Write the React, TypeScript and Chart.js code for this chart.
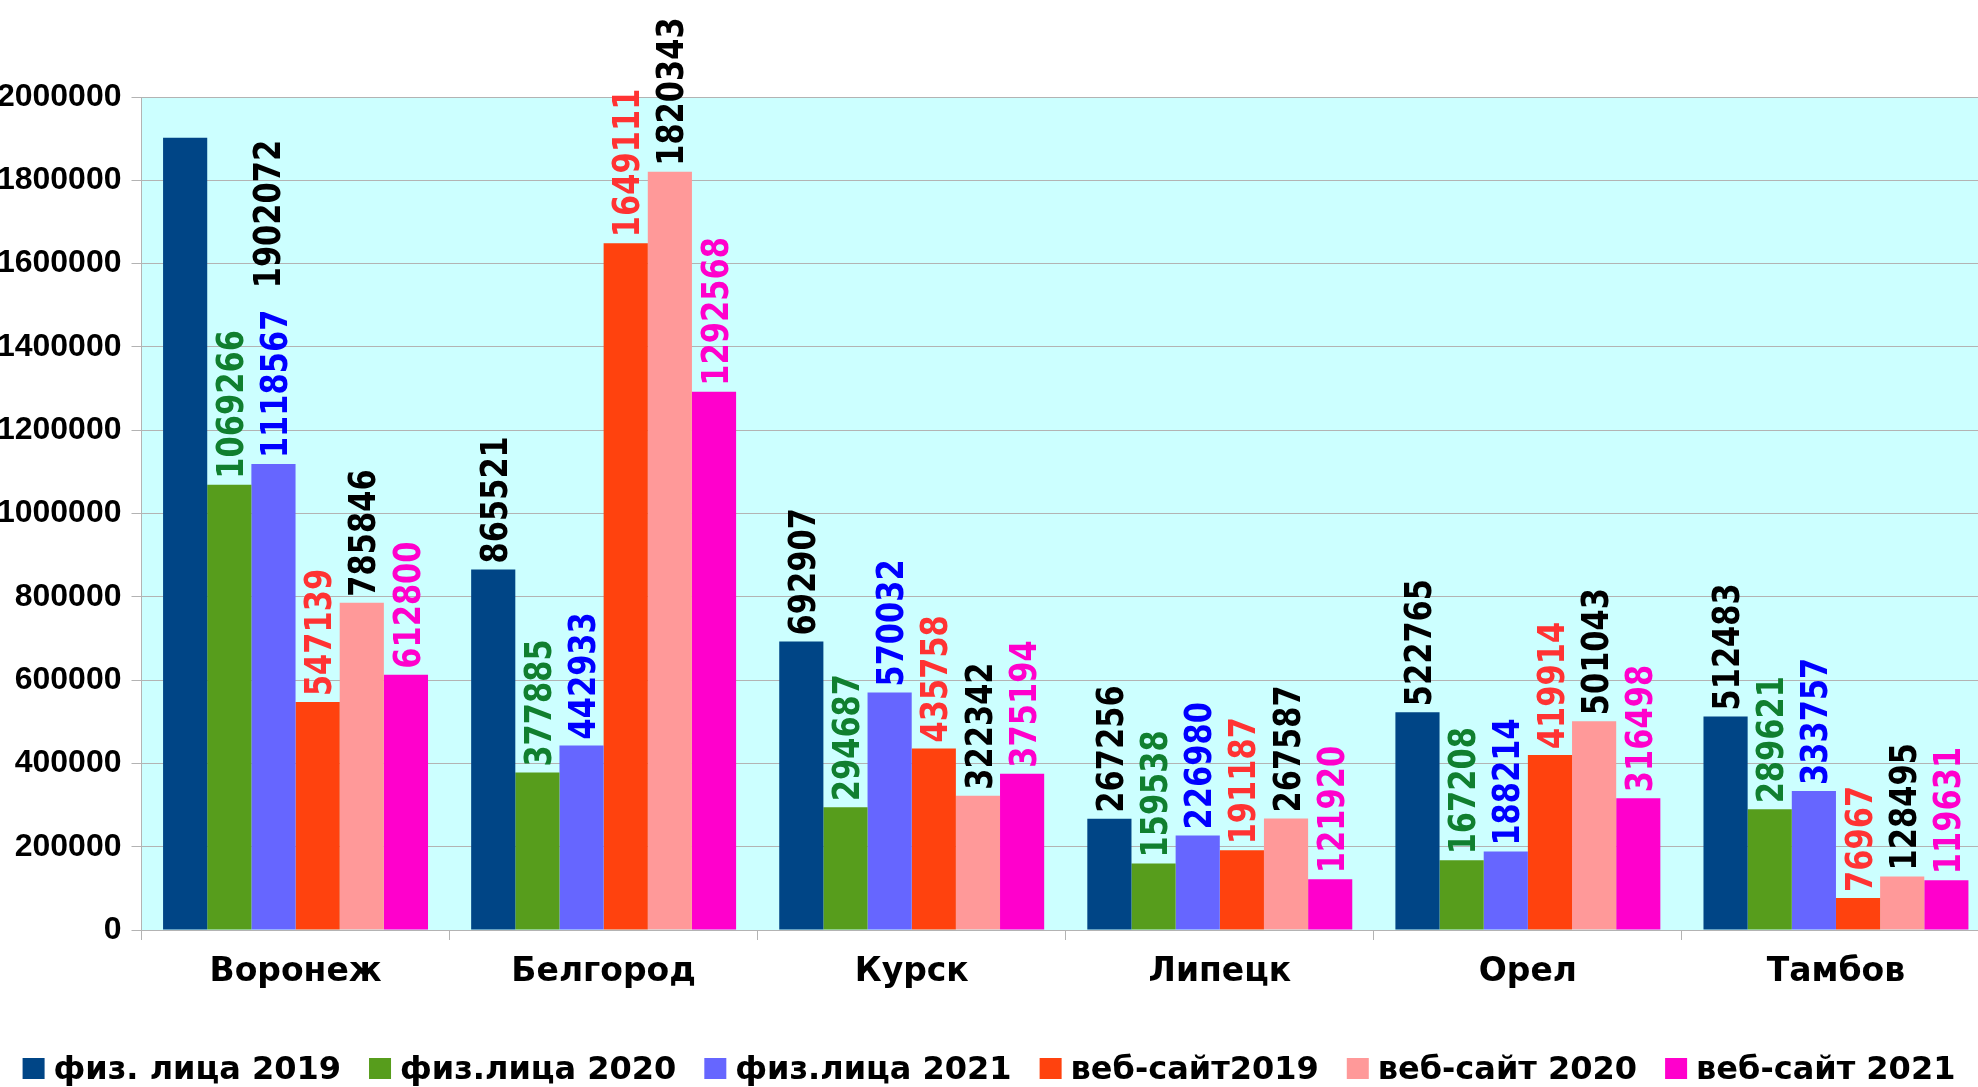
import React, { useEffect, useRef } from 'react';
import { Chart, registerables } from 'chart.js';

Chart.register(...registerables);

const categories = ['Воронеж', 'Белгород', 'Курск', 'Липецк', 'Орел', 'Тамбов'];
const seriesNames = ['физ. лица 2019', 'физ.лица 2020', 'физ.лица 2021', 'веб-сайт2019', 'веб-сайт 2020', 'веб-сайт 2021'];
const fiz2019 = [1902072, 865521, 692907, 267256, 522765, 512483];
const fiz2020 = [1069266, 377885, 294687, 159538, 167208, 289621];
const fiz2021 = [1118567, 442933, 570032, 226980, 188214, 333757];
const web2019 = [547139, 1649111, 435758, 191187, 419914, 76967];
const web2020 = [785846, 1820343, 322342, 267587, 501043, 128495];
const web2021 = [612800, 1292568, 375194, 121920, 316498, 119631];
const seriesValues = [fiz2019, fiz2020, fiz2021, web2019, web2020, web2021];
const barColors = ['#004586', '#579d1c', '#6666ff', '#ff420e', '#ff9999', '#ff00cc'];
const labelColors = ['#000000', '#107f2f', '#0000ff', '#ff3333', '#000000', '#ff00cc'];
const yMin = 0;
const yMax = 2000000;
const yStep = 200000;

const VIEW_W = 1978;
const CANVAS_W = 1990;
const CANVAS_H = 1087;

const bgPlugin = {
  id: 'bgPlugin',
  beforeDraw(chart: any) {
    const { ctx, chartArea } = chart;
    ctx.save();
    ctx.fillStyle = '#ffffff';
    ctx.fillRect(0, 0, chart.width, chart.height);
    ctx.fillStyle = '#ccffff';
    ctx.fillRect(chartArea.left, chartArea.top, chartArea.right - chartArea.left, chartArea.bottom - chartArea.top);
    ctx.restore();
  },
};

const LABEL_FONT_SIZE = 30.5;
const LABEL_STRETCH = 1.22;
const labelPlugin = {
  id: 'labelPlugin',
  afterDatasetsDraw(chart: any) {
    const ctx = chart.ctx;
    chart.data.datasets.forEach((ds: any, di: number) => {
      const meta = chart.getDatasetMeta(di);
      meta.data.forEach((bar: any, i: number) => {
        const text = String(ds.data[i]);
        ctx.save();
        ctx.font = `bold ${LABEL_FONT_SIZE}px "DejaVu Sans"`;
        const w = ctx.measureText(text).width;
        let startY = bar.y - 6;
        let cx = bar.x;
        if (startY - w < 0) {
          startY = bar.y + w + 2;
          cx = bar.x + 1.83 * bar.width;
        }
        ctx.translate(cx, startY);
        ctx.rotate(-Math.PI / 2);
        ctx.scale(1, LABEL_STRETCH);
        ctx.fillStyle = labelColors[di];
        ctx.textAlign = 'left';
        ctx.textBaseline = 'alphabetic';
        ctx.fillText(text, 0, (0.729 * LABEL_FONT_SIZE) / 2);
        ctx.restore();
      });
    });
  },
};

const legendPlugin = {
  id: 'customLegend',
  afterDraw(chart: any) {
    const ctx = chart.ctx;
    ctx.save();
    ctx.font = 'bold 32px "DejaVu Sans"';
    const items = chart.data.datasets.map((ds: any) => ({
      label: ds.label,
      color: ds.backgroundColor,
      w: ctx.measureText(ds.label).width,
    }));
    const boxToText = 31;
    const gap = 28;
    const total = items.reduce((s: number, it: any) => s + boxToText + it.w, 0) + gap * (items.length - 1);
    let x = (VIEW_W - total) / 2;
    ctx.textBaseline = 'alphabetic';
    ctx.textAlign = 'left';
    items.forEach((it: any) => {
      ctx.fillStyle = it.color;
      ctx.fillRect(x, 1058, 22, 21);
      ctx.fillStyle = '#000000';
      ctx.fillText(it.label, x + boxToText, 1079);
      x += boxToText + it.w + gap;
    });
    ctx.restore();
  },
};

export default function App() {
  const ref = useRef<HTMLCanvasElement | null>(null);

  useEffect(() => {
    if (!ref.current) return;
    const chart = new Chart(ref.current, {
      type: 'bar',
      data: {
        labels: categories,
        datasets: seriesNames.map((name, i) => ({
          label: name,
          data: seriesValues[i],
          backgroundColor: barColors[i],
          borderWidth: 0,
          categoryPercentage: 0.86,
          barPercentage: 1,
        })),
      },
      options: {
        responsive: false,
        animation: false,
        devicePixelRatio: 1,
        layout: { padding: { top: 97, left: 0, right: 0, bottom: 99 } },
        plugins: {
          legend: { display: false },
          tooltip: { enabled: false },
        },
        scales: {
          x: {
            afterFit: (scale: any) => {
              scale.height = 58;
            },
            grid: { drawOnChartArea: false, tickLength: 10, color: '#b3b3b3', offset: true },
            border: { color: '#b3b3b3' },
            ticks: {
              color: '#000000',
              font: { family: 'DejaVu Sans', size: 33, weight: 'bold' },
              padding: 13,
              maxRotation: 0,
              autoSkip: false,
            },
          },
          y: {
            min: yMin,
            max: yMax,
            afterFit: (scale: any) => {
              scale.width = 141.5;
            },
            grid: { color: '#b3b3b3', tickLength: 10 },
            border: { color: '#b3b3b3' },
            ticks: {
              stepSize: yStep,
              color: '#000000',
              font: { family: 'Liberation Sans', size: 32, weight: 'bold' },
              padding: 10,
              callback: (v: any) => String(v),
            },
          },
        },
      } as any,
      plugins: [bgPlugin, labelPlugin, legendPlugin],
    });
    return () => chart.destroy();
  }, []);

  return (
    <div
      style={{
        position: 'fixed',
        left: 0,
        top: 0,
        width: '100vw',
        height: '100vh',
        overflow: 'hidden',
        background: '#ffffff',
      }}
    >
      <canvas
        ref={ref}
        width={CANVAS_W}
        height={CANVAS_H}
        style={{ width: CANVAS_W + 'px', height: CANVAS_H + 'px', display: 'block' }}
      />
    </div>
  );
}
